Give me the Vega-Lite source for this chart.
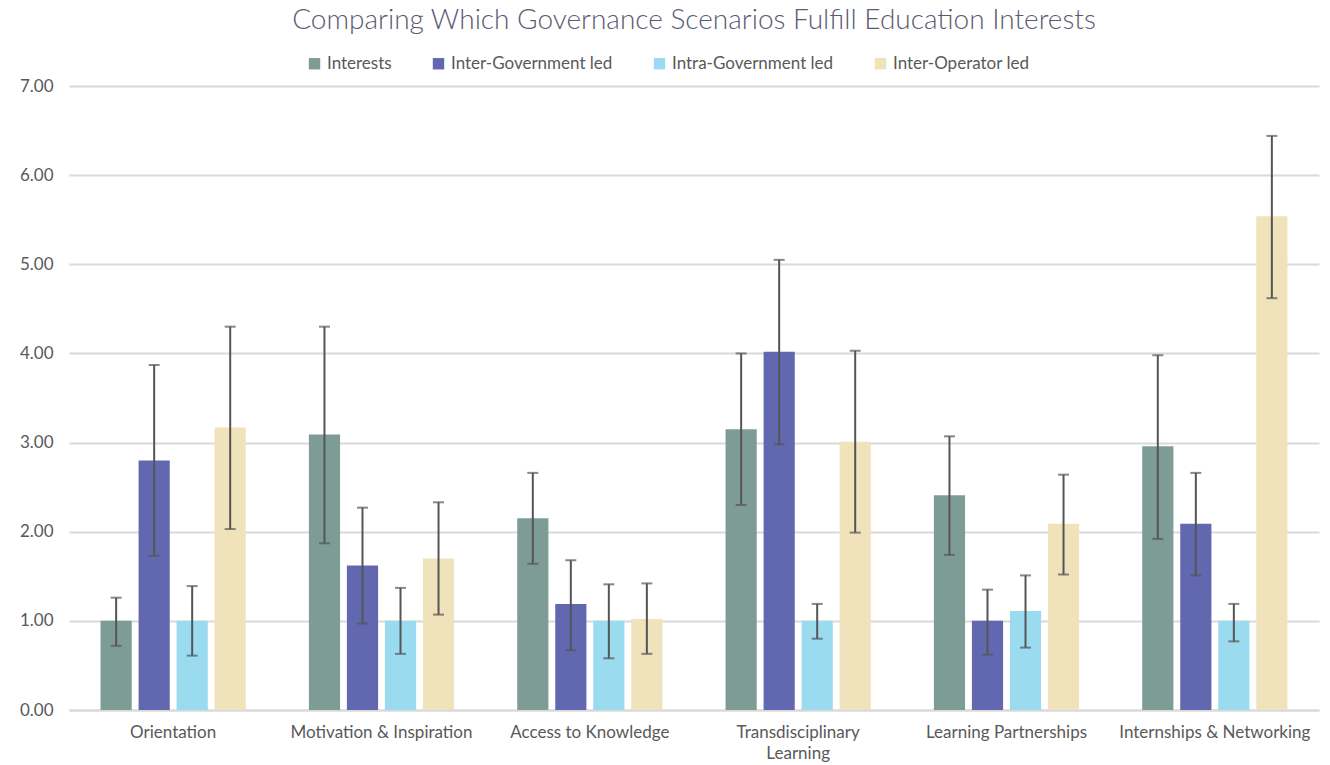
{
  "$schema": "https://vega.github.io/schema/vega-lite/v6.json",
  "width": 1250,
  "height": 624,
  "autosize": {"type": "none"},
  "padding": {"left": 69, "top": 86, "right": 11, "bottom": 55},
  "background": "white",
  "title": {
    "text": "Comparing Which Governance Scenarios Fulfill Education Interests",
    "font": "Lato",
    "fontSize": 28,
    "fontWeight": 300,
    "color": "#5a5a72",
    "anchor": "middle",
    "offset": 20
  },
  "config": {
    "view": {"stroke": null},
    "font": "Lato",
    "axis": {"labelFont": "Lato", "labelColor": "#595959", "labelFontSize": 17, "labelLimit": 400},
    "legend": {"labelFont": "Lato", "labelColor": "#595959", "labelFontSize": 17, "labelLimit": 400}
  },
  "data": {
    "values": [
      {"category": "Orientation", "series": "Interests", "value": 1.00, "lo": 0.72, "hi": 1.26},
      {"category": "Orientation", "series": "Inter-Government led", "value": 2.80, "lo": 1.73, "hi": 3.87},
      {"category": "Orientation", "series": "Intra-Government led", "value": 1.00, "lo": 0.61, "hi": 1.39},
      {"category": "Orientation", "series": "Inter-Operator led", "value": 3.17, "lo": 2.03, "hi": 4.30},
      {"category": "Motivation & Inspiration", "series": "Interests", "value": 3.09, "lo": 1.87, "hi": 4.30},
      {"category": "Motivation & Inspiration", "series": "Inter-Government led", "value": 1.62, "lo": 0.97, "hi": 2.27},
      {"category": "Motivation & Inspiration", "series": "Intra-Government led", "value": 1.00, "lo": 0.63, "hi": 1.37},
      {"category": "Motivation & Inspiration", "series": "Inter-Operator led", "value": 1.70, "lo": 1.07, "hi": 2.33},
      {"category": "Access to Knowledge", "series": "Interests", "value": 2.15, "lo": 1.64, "hi": 2.66},
      {"category": "Access to Knowledge", "series": "Inter-Government led", "value": 1.19, "lo": 0.67, "hi": 1.68},
      {"category": "Access to Knowledge", "series": "Intra-Government led", "value": 1.00, "lo": 0.58, "hi": 1.41},
      {"category": "Access to Knowledge", "series": "Inter-Operator led", "value": 1.02, "lo": 0.63, "hi": 1.42},
      {"category": "Transdisciplinary Learning", "series": "Interests", "value": 3.15, "lo": 2.30, "hi": 4.00},
      {"category": "Transdisciplinary Learning", "series": "Inter-Government led", "value": 4.02, "lo": 2.98, "hi": 5.05},
      {"category": "Transdisciplinary Learning", "series": "Intra-Government led", "value": 1.00, "lo": 0.80, "hi": 1.19},
      {"category": "Transdisciplinary Learning", "series": "Inter-Operator led", "value": 3.01, "lo": 1.99, "hi": 4.03},
      {"category": "Learning Partnerships", "series": "Interests", "value": 2.41, "lo": 1.74, "hi": 3.07},
      {"category": "Learning Partnerships", "series": "Inter-Government led", "value": 1.00, "lo": 0.62, "hi": 1.35},
      {"category": "Learning Partnerships", "series": "Intra-Government led", "value": 1.11, "lo": 0.70, "hi": 1.51},
      {"category": "Learning Partnerships", "series": "Inter-Operator led", "value": 2.09, "lo": 1.52, "hi": 2.64},
      {"category": "Internships & Networking", "series": "Interests", "value": 2.96, "lo": 1.92, "hi": 3.98},
      {"category": "Internships & Networking", "series": "Inter-Government led", "value": 2.09, "lo": 1.51, "hi": 2.66},
      {"category": "Internships & Networking", "series": "Intra-Government led", "value": 1.00, "lo": 0.77, "hi": 1.19},
      {"category": "Internships & Networking", "series": "Inter-Operator led", "value": 5.54, "lo": 4.62, "hi": 6.44}
    ]
  },
  "encoding": {
    "x": {
      "field": "category",
      "type": "nominal",
      "sort": null,
      "scale": {"paddingInner": 0, "paddingOuter": 0},
      "axis": {
        "title": null,
        "labelAngle": 0,
        "ticks": false,
        "domain": true,
        "domainColor": "#d9d9d9",
        "domainWidth": 2,
        "labelPadding": 14,
        "labelExpr": "datum.label == 'Transdisciplinary Learning' ? ['Transdisciplinary', 'Learning'] : datum.label",
        "labelLineHeight": 21
      }
    },
    "xOffset": {
      "field": "series",
      "type": "nominal",
      "sort": ["Interests", "Inter-Government led", "Intra-Government led", "Inter-Operator led"],
      "scale": {"paddingInner": 0.18, "paddingOuter": 0.83}
    }
  },
  "layer": [
    {
      "mark": {"type": "bar"},
      "encoding": {
        "y": {
          "field": "value",
          "type": "quantitative",
          "scale": {"domain": [0, 7], "nice": false},
          "axis": {
            "title": null,
            "format": ".2f",
            "values": [0, 1, 2, 3, 4, 5, 6, 7],
            "labelOverlap": false,
            "labelFlush": false,
            "domain": false,
            "ticks": false,
            "grid": true,
            "gridColor": "#d9d9d9",
            "gridWidth": 2,
            "labelPadding": 16
          }
        },
        "color": {
          "field": "series",
          "type": "nominal",
          "sort": ["Interests", "Inter-Government led", "Intra-Government led", "Inter-Operator led"],
          "scale": {
            "domain": ["Interests", "Inter-Government led", "Intra-Government led", "Inter-Operator led"],
            "range": ["#7e9c96", "#6168b0", "#9bdbf0", "#f0e2ba"]
          },
          "legend": {
            "title": null,
            "orient": "none",
            "legendX": 237,
            "legendY": -31,
            "direction": "horizontal",
            "symbolType": "square",
            "symbolSize": 130,
            "symbolStrokeWidth": 0,
            "columnPadding": 38,
            "labelOffset": 4
          }
        }
      }
    },
    {
      "mark": {"type": "rule", "color": "#555555", "strokeWidth": 2},
      "encoding": {
        "y": {"field": "lo", "type": "quantitative"},
        "y2": {"field": "hi"}
      }
    },
    {
      "mark": {"type": "tick", "color": "#555555", "thickness": 2, "size": 11, "orient": "horizontal"},
      "encoding": {
        "y": {"field": "lo", "type": "quantitative"}
      }
    },
    {
      "mark": {"type": "tick", "color": "#555555", "thickness": 2, "size": 11, "orient": "horizontal"},
      "encoding": {
        "y": {"field": "hi", "type": "quantitative"}
      }
    }
  ]
}
